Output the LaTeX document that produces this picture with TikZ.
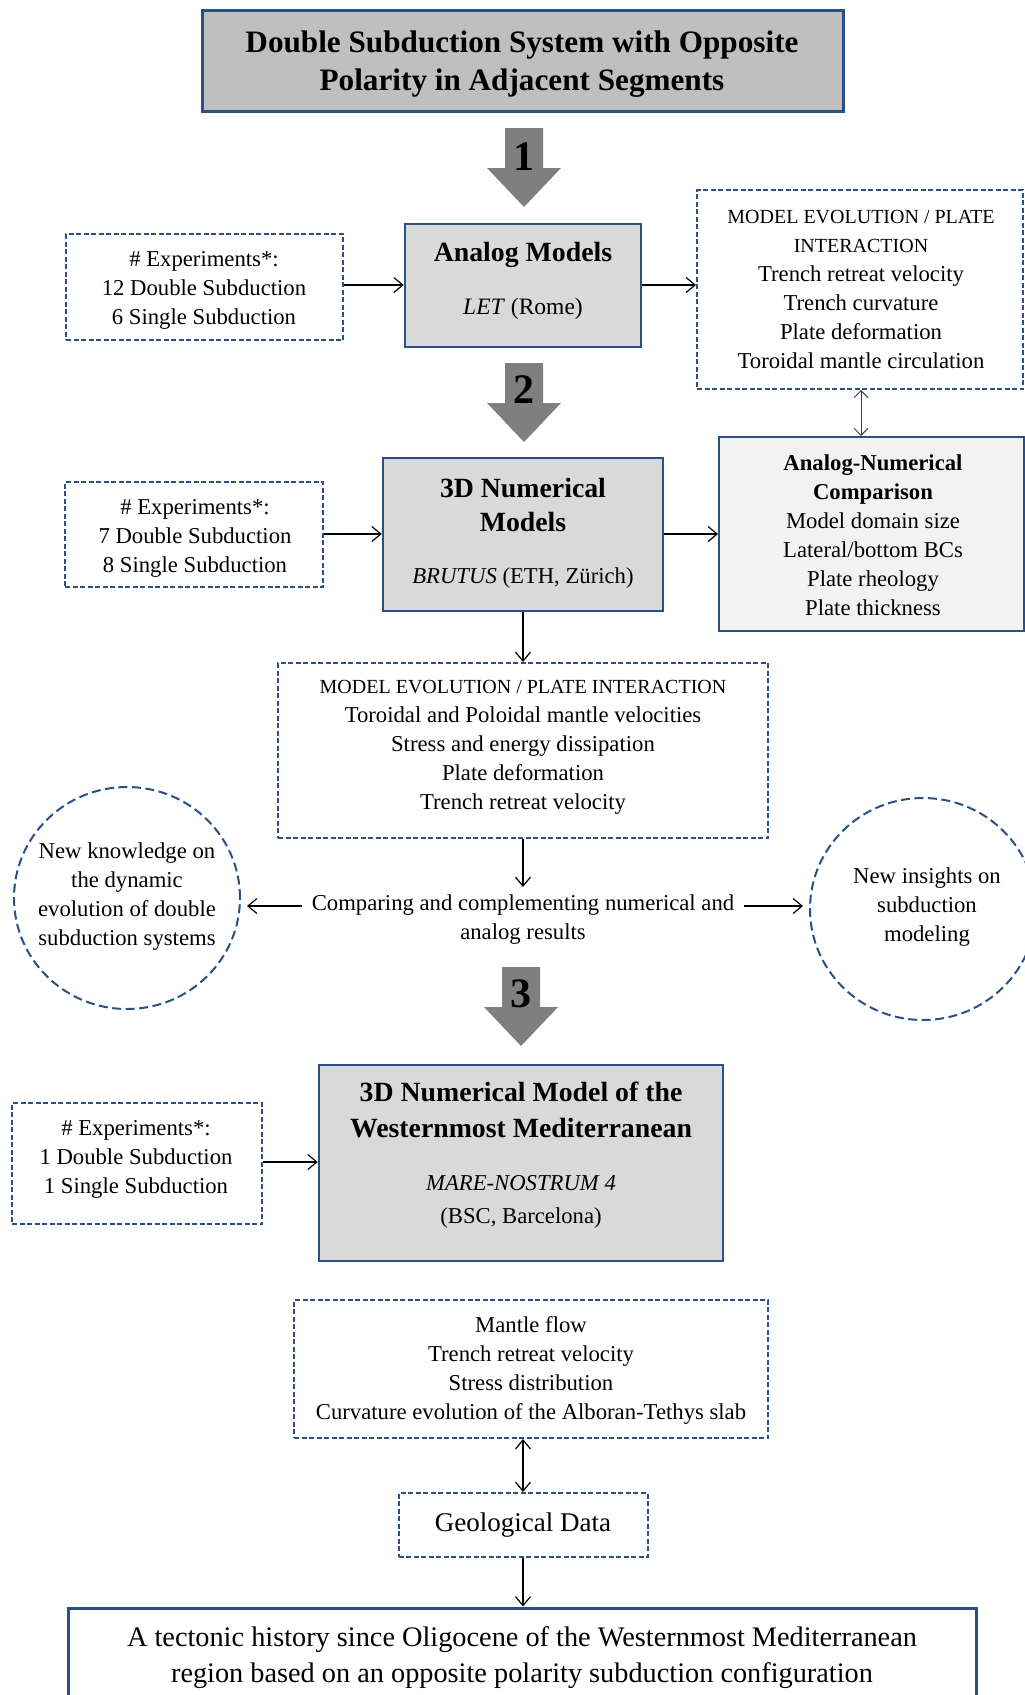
\documentclass[tikz,border=0pt]{standalone}
\usepackage{fontspec}
\setmainfont{Liberation Serif}
\usetikzlibrary{arrows.meta,shapes.geometric}
\definecolor{bblue}{RGB}{42,80,135}
\definecolor{titlegray}{RGB}{191,191,191}
\definecolor{boxgray}{RGB}{217,217,217}
\definecolor{lightgray2}{RGB}{242,242,242}
\definecolor{arrgray}{RGB}{127,127,127}
\newcommand\capsline[1]{{\fontsize{20}{29}\selectfont #1}}
\tikzset{
  solidbox/.style={draw=bblue, line width=2.5pt, rectangle, inner sep=0pt},
  dashbox/.style={draw=bblue, line width=2pt, dash pattern=on 5pt off 2.5pt, rectangle, inner sep=0pt},
  dashcirc/.style={draw=bblue, line width=2pt, dash pattern=on 9pt off 4.5pt, ellipse, inner sep=0pt},
  txt/.style={align=center, font=\fontsize{22.7}{29}\selectfont, inner sep=0pt, yshift=-3pt},
  conn/.style={line width=1.2pt, -{Straight Barb[length=9pt,width=15pt,line width=1.2pt]}},
  dconn/.style={line width=1.2pt, {Straight Barb[length=9pt,width=15pt,line width=1.2pt]}-{Straight Barb[length=9pt,width=15pt,line width=1.2pt]}},
  thinconn/.style={line width=0.9pt, draw=black!75, {Straight Barb[length=7pt,width=14pt,line width=0.9pt]}-{Straight Barb[length=7pt,width=14pt,line width=0.9pt]}},
  bignum/.style={font=\fontsize{42}{42}\selectfont\bfseries, inner sep=0pt},
  bigarrow/.pic={\fill[arrgray] (-19,0) -- (19,0) -- (19,40) -- (37,40) -- (0,79) -- (-37,40) -- (-19,40) -- cycle;}
}
\begin{document}
\begin{tikzpicture}[x=1pt,y=-1pt]
\useasboundingbox (0,0) rectangle (1025,1695);
\clip (0,0) rectangle (1025,1695);

% Title
\node[solidbox, line width=3pt, fill=titlegray, minimum width=641, minimum height=101] (title) at (522.5,60.5) {};
\node[txt, font=\fontsize{31.2}{38.5}\selectfont\bfseries] (ttitle) at (522,61) {Double Subduction System with Opposite\\Polarity in Adjacent Segments};

% big arrow 1
\pic at (524,128) {bigarrow};
\node[bignum] (n1) at (524,157) {1};

% Row 1
\node[dashbox, minimum width=277, minimum height=106] (exp1) at (204.5,287) {};
\node[txt] (texp1) at (204,287) {\# Experiments*:\\12 Double Subduction\\6 Single Subduction};

\node[solidbox, fill=boxgray, minimum width=236, minimum height=123] (analog) at (523,285.5) {};
\node[txt] (tanalog) at (523,278) {{\fontsize{27.8}{29}\selectfont\bfseries Analog Models}\\[24pt]{\fontsize{23.5}{29}\selectfont\textit{LET} (Rome)}};

\node[dashbox, minimum width=326, minimum height=199] (evo1) at (860,289.5) {};
\node[txt] (tevo1) at (861,286) {\capsline{MODEL EVOLUTION / PLATE}\\\capsline{INTERACTION}\\Trench retreat velocity\\Trench curvature\\Plate deformation\\Toroidal mantle circulation};

\draw[conn] (exp1.east |- 0,285) -- (analog.west |- 0,285);
\draw[conn] (analog.east |- 0,285) -- (evo1.west |- 0,285);

% big arrow 2
\pic at (524,363) {bigarrow};
\node[bignum] (n2) at (524,390) {2};

% Row 2
\node[dashbox, minimum width=258, minimum height=105] (exp2) at (194,534.5) {};
\node[txt] (texp2) at (195,535) {\# Experiments*:\\7 Double Subduction\\8 Single Subduction};

\node[solidbox, fill=boxgray, minimum width=280, minimum height=153] (num3d) at (523,534.5) {};
\node[txt] (tnum3d) at (523,530) {{\fontsize{27.8}{29}\selectfont\bfseries 3D Numerical}\\[5pt]{\fontsize{27.8}{29}\selectfont\bfseries Models}\\[23pt]\textit{BRUTUS} (ETH, Zürich)};

\node[solidbox, line width=2pt, fill=lightgray2, minimum width=305, minimum height=194] (anc) at (871.5,534) {};
\node[txt] (tanc) at (873,532) {{\bfseries Analog-Numerical}\\{\bfseries Comparison}\\Model domain size\\Lateral/bottom BCs\\Plate rheology\\Plate thickness};

\draw[thinconn] (evo1.south -| 861,0) -- (anc.north -| 861,0);
\draw[conn] (exp2.east |- 0,534) -- (num3d.west |- 0,534);
\draw[conn] (num3d.east |- 0,534) -- (anc.west |- 0,534);

% Model evolution 2
\node[dashbox, minimum width=490, minimum height=175] (evo2) at (523,750.5) {};
\node[txt] (tevo2) at (523,744) {\capsline{MODEL EVOLUTION / PLATE INTERACTION}\\Toroidal and Poloidal mantle velocities\\Stress and energy dissipation\\Plate deformation\\Trench retreat velocity};
\draw[conn] (num3d.south) -- (evo2.north);

% Comparing
\node[txt, inner xsep=10pt] (cmp) at (523,917) {Comparing and complementing numerical and\\analog results};
\draw[conn] (evo2.south) -- (evo2.south |- 0,887);

\node[dashcirc, minimum width=226, minimum height=222] (lc) at (127,898) {};
\node[txt] (tlc) at (127,894) {New knowledge on\\the dynamic\\evolution of double\\subduction systems};
\node[dashcirc, minimum width=226, minimum height=222] (rc) at (923,909) {};
\node[txt] (trc) at (927,904) {New insights on\\subduction\\modeling};

\draw[conn, shorten >=6pt] (cmp.west |- 0,906) -- (lc.east |- 0,906);
\draw[conn, shorten >=6pt] (cmp.east |- 0,906) -- (rc.west |- 0,906);

% big arrow 3
\pic at (521,967) {bigarrow};
\node[bignum] (n3) at (521,994) {3};

% Row 3
\node[dashbox, minimum width=250, minimum height=121] (exp3) at (137,1163.5) {};
\node[txt] (texp3) at (136,1156) {\# Experiments*:\\1 Double Subduction\\1 Single Subduction};

\node[solidbox, fill=boxgray, minimum width=404, minimum height=196] (wm) at (521,1163) {};
\node[txt] (twm) at (521,1152) {{\fontsize{27.8}{29}\selectfont\bfseries 3D Numerical Model of the}\\[7pt]{\fontsize{27.8}{29}\selectfont\bfseries Westernmost Mediterranean}\\[24pt]\textit{MARE-NOSTRUM 4}\\[4pt](BSC, Barcelona)};

\draw[conn] (exp3.east |- 0,1162) -- (wm.west |- 0,1162);

% Mantle flow box
\node[dashbox, minimum width=474, minimum height=138] (mantle) at (531,1369) {};
\node[txt] (tmantle) at (531,1367) {Mantle flow\\Trench retreat velocity\\Stress distribution\\Curvature evolution of the Alboran-Tethys slab};

\node[dashbox, minimum width=249, minimum height=64] (geo) at (523,1525) {};
\node[txt, font=\fontsize{27}{30}\selectfont] (tgeo) at (523,1522) {Geological Data};

\draw[dconn] (mantle.south -| geo.north) -- (geo.north);

% Final box
\node[solidbox, line width=3pt, minimum width=908, minimum height=94] (final) at (522,1655) {};
\node[txt, font=\fontsize{28.3}{36}\selectfont] (tfinal) at (522,1655) {A tectonic history since Oligocene of the Westernmost Mediterranean\\region based on an opposite polarity subduction configuration};

\draw[conn] (geo.south) -- (geo.south |- final.north);
\end{tikzpicture}
\end{document}
